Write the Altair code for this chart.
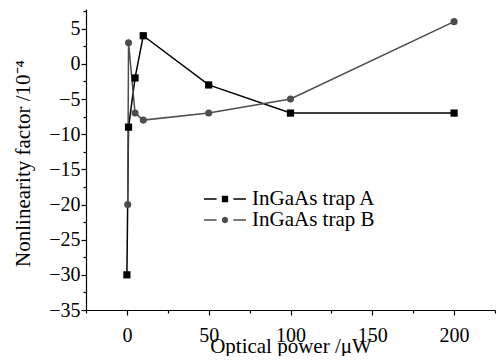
import altair as alt
import pandas as pd

series_names = ["InGaAs trap A", "InGaAs trap B"]
power_A = [0, 1, 5, 10, 50, 100, 200]
factor_A = [-30, -9, -2, 4, -3, -7, -7]
power_B = [0.5, 1, 5, 10, 50, 100, 200]
factor_B = [-20, 3, -7, -8, -7, -5, 6]

x_ticks = [-25, 0, 25, 50, 75, 100, 125, 150, 175, 200, 225]
y_ticks = [-35, -32.5, -30, -27.5, -25, -22.5, -20, -17.5, -15, -12.5, -10, -7.5,
           -5, -2.5, 0, 2.5, 5, 7.5]

df = pd.DataFrame(
    {
        "power": power_A + power_B,
        "factor": factor_A + factor_B,
        "series": [series_names[0]] * len(power_A) + [series_names[1]] * len(power_B),
    }
)

FONT = "Liberation Serif"
col_A = "#000000"
col_B = "#4d4d4d"

x_enc = alt.X(
    "power:Q",
    scale=alt.Scale(domain=[-25, 225], nice=False, zero=False),
    axis=alt.Axis(
        values=x_ticks,
        labelExpr="datum.value % 50 === 0 ? datum.label : ''",
        tickSize={"condition": {"test": "datum.value % 50 === 0", "value": 5}, "value": 3},
        title="Optical power /μW",
        titleX=204.5,
        titleY=36,
        titleBaseline="middle",
        titleAnchor="middle",
        labelPadding=10,
    ),
)
y_enc = alt.Y(
    "factor:Q",
    scale=alt.Scale(domain=[-35, 7.8], nice=False, zero=False),
    axis=alt.Axis(
        values=y_ticks,
        labelExpr="datum.value % 5 === 0 ? datum.label : ''",
        tickSize={"condition": {"test": "datum.value % 5 === 0", "value": 5}, "value": 3},
        title="Nonlinearity factor /10⁻⁴",
        titleX=-62.5,
        titleY=154,
        titleBaseline="middle",
        titleAnchor="middle",
        labelPadding=1,
    ),
)

base = alt.Chart(df)

line_A = base.transform_filter(alt.datum.series == series_names[0]).mark_line(
    color=col_A, strokeWidth=1.5
).encode(x=x_enc, y=y_enc)
line_B = base.transform_filter(alt.datum.series == series_names[1]).mark_line(
    color=col_B, strokeWidth=1.5
).encode(x=x_enc, y=y_enc)
pts_A = base.transform_filter(alt.datum.series == series_names[0]).mark_point(
    shape="square", filled=True, color=col_A, size=52, opacity=1
).encode(x=x_enc, y=y_enc)
pts_B = base.transform_filter(alt.datum.series == series_names[1]).mark_point(
    shape="circle", filled=True, color=col_B, size=50, opacity=1
).encode(x=x_enc, y=y_enc)

# legend glyphs: two thin filled bars with a marker in between
path_A = ("M-1,-0.036H-0.4V0.036H-1Z M0.4,-0.036H1V0.036H0.4Z "
          "M-0.15,-0.15H0.15V0.15H-0.15Z")
path_B = ("M-1,-0.036H-0.4V0.036H-1Z M0.4,-0.036H1V0.036H0.4Z "
          "M0.15,0A0.15,0.15,0,1,1,-0.15,0A0.15,0.15,0,1,1,0.15,0Z")

# legend-only layer: it draws nothing (all rows filtered out), its scales give the legend
legend_layer = base.transform_filter("false").mark_point(filled=True, opacity=1).encode(
    x=x_enc,
    y=y_enc,
    fill=alt.Fill(
        "series:N",
        scale=alt.Scale(domain=series_names, range=[col_A, col_B]),
        legend=alt.Legend(
            title=None,
            orient="none",
            legendX=118,
            legendY=180,
            symbolSize=1764,
            symbolStrokeWidth=0,
            symbolOpacity=1,
            clipHeight=20,
            rowPadding=0,
            labelOffset=6,
            labelFont=FONT,
            labelFontSize=21,
            labelColor="black",
            labelLimit=300,
            padding=0,
        ),
    ),
    shape=alt.Shape(
        "series:N",
        scale=alt.Scale(domain=series_names, range=[path_A, path_B]),
    ),
)

chart = (
    alt.layer(line_A, line_B, pts_A, pts_B, legend_layer)
    .properties(
        width=409,
        height=301,
        autosize=alt.AutoSizeParams(type="none"),
        padding={"left": 78, "top": 1, "right": 1, "bottom": 46},
        background="white",
    )
    .configure_view(stroke=None)
    .configure_axis(
        grid=False,
        domainColor="black",
        domainWidth=1.2,
        tickColor="black",
        tickWidth=1.2,
        labelFont=FONT,
        labelFontSize=20,
        labelColor="black",
        titleFont=FONT,
        titleFontSize=21,
        titleFontWeight="normal",
        titleColor="black",
    )
)

chart.save("out.html", embed_options={"renderer": "svg", "actions": False})
